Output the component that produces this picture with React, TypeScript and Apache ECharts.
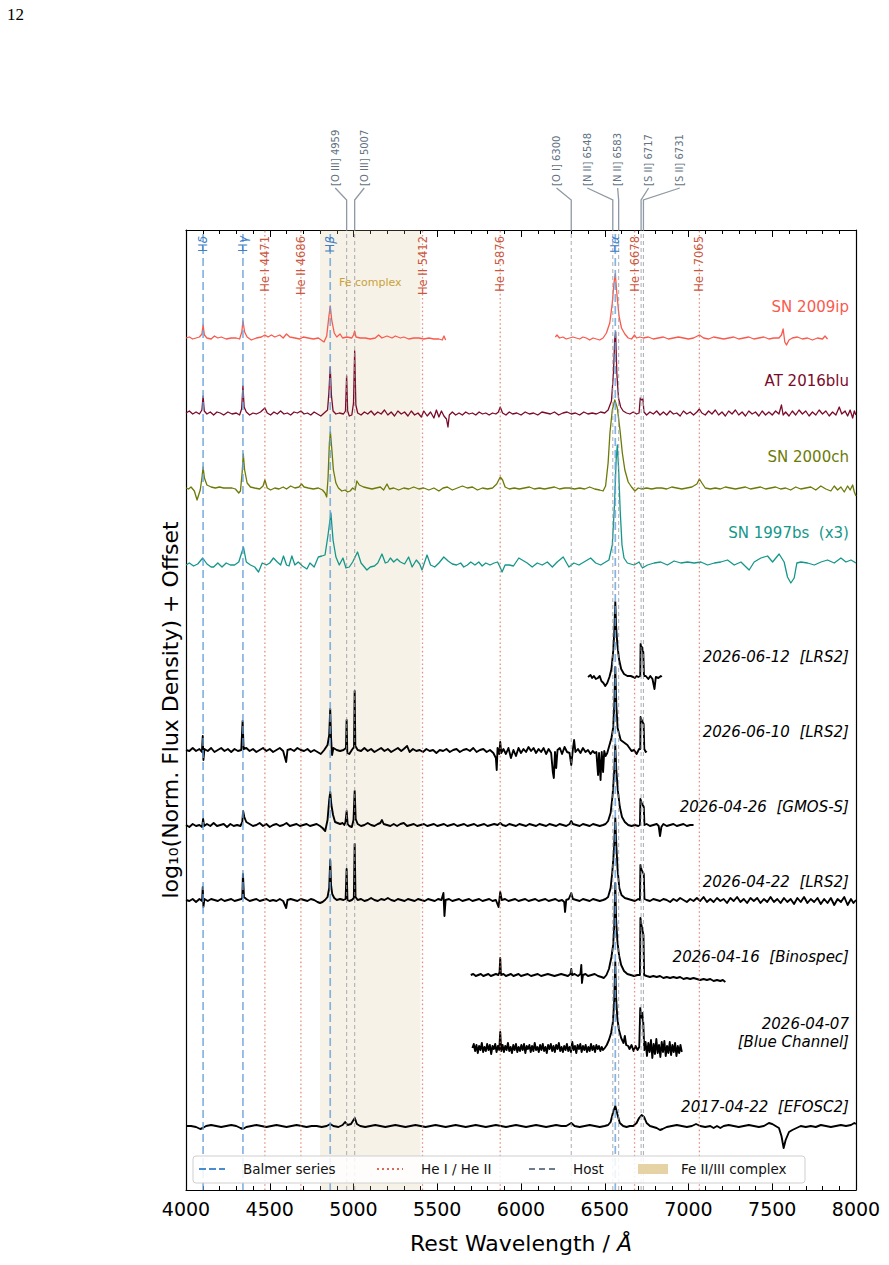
import React, { useEffect, useRef } from "react";
import * as echarts from "echarts";

type P = [number, number];

// ---------------- axes ----------------
const X_MIN = 4000;
const X_MAX = 8000;
const X_STEP = 500;
const Y_MIN = 0;
const Y_MAX = 960;

// ---------------- reference lines ----------------
const BALMER_WAVES = [4102, 4340, 4861, 6563];
const BALMER_GREEK = ["δ", "γ", "β", "α"];
const HE_WAVES = [4471, 4686, 5412, 5876, 6678, 7065];
const HE_LABELS = ["He I 4471", "He II 4686", "He II 5412", "He I 5876", "He I 6678", "He I 7065"];
const HOST_WAVES = [4959, 5007, 6300, 6548, 6583, 6717, 6731];
const HOST_LABELS = ["[O III] 4959", "[O III] 5007", "[O I] 6300", "[N II] 6548", "[N II] 6583", "[S II] 6717", "[S II] 6731"];
const HOST_LABEL_AT = [4891, 5064, 6212, 6396, 6577, 6762, 6948];
const FE_RANGE = [4800, 5400];

// ---------------- spectra (wavelength, relative flux) ----------------
const SN2009IP_BLUE: P[] = [[4000,0],[4020,1],[4040,-1],[4060,0],[4080,1],[4095,4],[4102,13],[4110,3],[4125,0],[4150,-1],[4170,2],[4190,0],[4210,1],[4240,-1],[4270,0],[4300,0],[4320,-1],[4333,6],[4340,17],[4350,6],[4365,1],[4390,-2],[4420,0],[4450,1],[4471,3],[4490,1],[4510,3],[4530,1],[4560,3],[4580,0],[4600,4],[4620,1],[4650,0],[4680,-1],[4700,1],[4730,0],[4760,-1],[4790,0],[4824,-4],[4840,2],[4852,20],[4861,32],[4870,18],[4885,5],[4900,1],[4920,4],[4935,0],[4960,1],[4990,0],[5000,3],[5007,7],[5015,1],[5040,0],[5070,0],[5100,-1],[5130,0],[5150,3],[5170,0],[5200,2],[5230,0],[5250,2],[5280,0],[5300,1],[5330,-1],[5360,0],[5390,0],[5420,-1],[5450,0],[5480,-1],[5510,-1],[5530,-2],[5540,2],[5550,-2]];
const SN2009IP_RED: P[] = [[6205,1],[6215,3],[6230,0],[6250,1],[6270,-1],[6290,0],[6310,1],[6330,0],[6350,-1],[6370,1],[6390,0],[6410,-2],[6430,0],[6450,-1],[6470,-2],[6490,0],[6510,5],[6530,15],[6545,35],[6555,55],[6563,64],[6572,45],[6585,22],[6600,10],[6620,4],[6640,0],[6660,-1],[6678,3],[6690,0],[6710,1],[6730,0],[6760,1],[6790,-1],[6820,0],[6850,1],[6880,-1],[6910,0],[6940,1],[6970,0],[7000,-1],[7030,0],[7065,3],[7090,0],[7120,-1],[7150,1],[7180,0],[7210,-1],[7240,0],[7270,1],[7300,-1],[7330,0],[7360,1],[7390,-1],[7420,0],[7450,1],[7480,-1],[7510,0],[7540,0],[7555,3],[7565,9],[7575,-4],[7585,-7],[7600,-2],[7620,0],[7650,1],[7680,-1],[7710,0],[7740,-2],[7770,0],[7800,-1],[7815,2],[7830,-1]];
const AT2016BLU: P[] = [[4000,0],[4020,2],[4040,-1],[4060,1],[4080,-1],[4095,3],[4102,17],[4109,2],[4125,-1],[4145,1],[4165,-2],[4185,1],[4205,0],[4225,-2],[4250,1],[4275,-1],[4300,0],[4320,-2],[4332,4],[4340,27],[4347,6],[4360,1],[4380,-2],[4400,0],[4420,-1],[4445,1],[4471,5],[4485,0],[4505,-2],[4525,1],[4545,-1],[4565,2],[4585,-1],[4605,0],[4625,-2],[4645,1],[4665,0],[4686,2],[4705,-1],[4725,0],[4745,-2],[4765,1],[4785,-1],[4805,-3],[4825,0],[4845,3],[4853,20],[4861,46],[4868,18],[4878,2],[4895,-1],[4915,0],[4940,-1],[4952,2],[4959,37],[4965,2],[4975,-3],[4990,-2],[5000,10],[5007,62],[5014,8],[5025,0],[5045,-2],[5065,1],[5085,-1],[5105,2],[5125,-2],[5145,1],[5165,-1],[5185,3],[5205,-2],[5225,1],[5245,-3],[5265,2],[5285,-1],[5305,1],[5325,-3],[5345,2],[5365,-2],[5385,0],[5405,-4],[5420,2],[5440,-3],[5460,1],[5480,-5],[5495,3],[5510,-4],[5525,2],[5540,-3],[5555,-6],[5564,-14],[5572,-2],[5590,1],[5610,-2],[5630,0],[5650,-2],[5670,1],[5690,-1],[5710,0],[5730,-2],[5750,1],[5770,-1],[5790,0],[5810,-2],[5830,0],[5850,-1],[5865,1],[5876,6],[5890,0],[5910,-2],[5930,1],[5950,-1],[5975,0],[6000,-2],[6025,1],[6050,-1],[6075,0],[6100,-2],[6125,1],[6150,0],[6175,-1],[6200,1],[6225,-2],[6250,0],[6275,1],[6300,-1],[6325,0],[6350,-2],[6375,1],[6400,-1],[6425,0],[6450,-1],[6475,1],[6500,0],[6520,3],[6540,12],[6552,40],[6560,75],[6565,81],[6572,40],[6582,15],[6595,6],[6610,2],[6630,0],[6650,-1],[6670,1],[6690,-1],[6705,0],[6712,15],[6720,13],[6728,14],[6734,1],[6750,-2],[6770,1],[6790,-1],[6810,2],[6830,-2],[6850,1],[6870,-2],[6890,2],[6910,-1],[6930,0],[6950,-3],[6970,2],[6990,-1],[7010,1],[7030,-2],[7050,1],[7065,4],[7080,0],[7100,-2],[7120,2],[7140,-1],[7160,3],[7180,-2],[7200,1],[7220,-3],[7240,2],[7260,-1],[7280,3],[7300,-2],[7320,1],[7340,-3],[7360,2],[7380,-1],[7400,1],[7420,-3],[7440,2],[7460,-2],[7480,1],[7500,-2],[7520,2],[7540,-1],[7555,8],[7565,-2],[7580,1],[7600,-3],[7620,2],[7640,-2],[7660,3],[7680,-1],[7700,2],[7720,-3],[7740,1],[7760,-2],[7780,3],[7800,-1],[7820,2],[7840,-3],[7860,1],[7880,-2],[7900,6],[7915,-1],[7935,2],[7950,-3],[7965,3],[7980,-5],[7990,2],[8000,-2]];
const SN2000CH: P[] = [[4000,0],[4015,-1],[4030,1],[4050,-3],[4066,-12],[4085,-2],[4095,10],[4102,21],[4110,10],[4125,3],[4150,1],[4175,0],[4200,1],[4225,0],[4250,0],[4275,0],[4295,-1],[4315,-5],[4325,-3],[4335,15],[4342,34],[4350,18],[4365,5],[4385,1],[4410,0],[4440,-1],[4460,2],[4471,8],[4485,0],[4505,-2],[4530,0],[4555,-1],[4580,1],[4600,-1],[4625,2],[4650,0],[4675,1],[4690,4],[4705,1],[4730,0],[4760,-1],[4790,0],[4815,-2],[4830,-5],[4840,-9],[4848,10],[4856,45],[4862,56],[4870,40],[4880,18],[4895,5],[4910,0],[4930,-3],[4950,-2],[4965,-4],[4980,-3],[4995,0],[5010,-2],[5020,7],[5035,3],[5060,1],[5085,0],[5110,-1],[5135,0],[5160,1],[5180,-2],[5200,4],[5215,-1],[5240,0],[5270,-2],[5300,0],[5330,-1],[5360,1],[5390,-1],[5420,0],[5450,-2],[5480,0],[5510,-3],[5535,0],[5560,1],[5590,-2],[5620,0],[5650,2],[5680,0],[5710,1],[5740,-2],[5770,0],[5800,-1],[5830,0],[5855,4],[5876,11],[5890,8],[5905,1],[5930,-1],[5960,0],[5990,-1],[6020,0],[6050,1],[6080,-1],[6110,0],[6140,-1],[6170,0],[6200,1],[6230,-1],[6260,0],[6290,0],[6320,-1],[6350,0],[6380,-1],[6410,1],[6440,-1],[6470,-2],[6490,-3],[6505,2],[6520,25],[6531,55],[6545,78],[6560,88],[6575,80],[6591,58],[6605,35],[6620,18],[6640,6],[6660,1],[6680,-3],[6700,0],[6720,-1],[6750,0],[6780,-1],[6810,0],[6840,0],[6870,-1],[6900,1],[6930,0],[6960,-1],[6990,0],[7020,1],[7050,4],[7065,9],[7080,5],[7100,0],[7130,-1],[7160,0],[7190,-1],[7220,1],[7250,0],[7280,-1],[7310,0],[7340,1],[7370,-1],[7400,0],[7430,1],[7460,-1],[7490,0],[7520,1],[7550,-1],[7580,0],[7610,-2],[7640,1],[7670,-1],[7700,0],[7730,1],[7760,-2],[7790,2],[7820,-1],[7850,-3],[7870,2],[7890,-2],[7910,1],[7930,-4],[7950,2],[7965,-2],[7980,3],[7990,-4],[8000,-8]];
const SN1997BS: P[] = [[4000,0],[4020,2],[4045,-1],[4070,1],[4100,7],[4125,1],[4150,-2],[4165,-2],[4190,2],[4215,-2],[4240,2],[4265,0],[4290,0],[4315,3],[4343,18],[4360,3],[4385,0],[4410,-2],[4433,-7],[4455,2],[4480,0],[4500,2],[4522,7],[4545,3],[4565,0],[4582,9],[4600,0],[4615,-1],[4632,9],[4650,0],[4670,3],[4695,-1],[4722,-4],[4740,2],[4765,-2],[4790,8],[4811,9],[4830,10],[4848,30],[4865,52],[4878,25],[4895,8],[4915,0],[4937,7],[4955,-3],[4975,-2],[4995,3],[5024,13],[5045,2],[5065,-2],[5080,-5],[5100,-2],[5125,-1],[5145,2],[5170,11],[5190,2],[5205,3],[5220,7],[5240,3],[5260,6],[5280,3],[5305,1],[5329,8],[5350,-2],[5375,5],[5395,1],[5409,-5],[5425,3],[5439,10],[5460,0],[5485,-2],[5510,2],[5539,8],[5565,4],[5590,1],[5615,0],[5640,2],[5658,-2],[5680,0],[5700,3],[5725,0],[5748,3],[5768,-1],[5790,2],[5815,0],[5840,2],[5860,3],[5875,-2],[5887,-7],[5905,0],[5930,0],[5955,-1],[5987,7],[6037,2],[6067,-2],[6097,2],[6127,0],[6157,3],[6187,-2],[6216,3],[6252,8],[6286,-2],[6316,2],[6346,0],[6376,3],[6416,7],[6446,2],[6476,0],[6505,3],[6525,5],[6545,20],[6558,60],[6568,105],[6575,120],[6583,95],[6592,55],[6603,20],[6615,7],[6635,2],[6675,0],[6705,3],[6725,-3],[6755,0],[6795,2],[6834,3],[6874,0],[6914,4],[6954,2],[6994,3],[7034,2],[7074,3],[7114,0],[7154,2],[7193,3],[7233,5],[7273,0],[7313,3],[7362,-5],[7392,3],[7432,7],[7472,9],[7502,3],[7541,11],[7571,3],[7591,-12],[7611,-18],[7631,-13],[7647,2],[7671,3],[7711,2],[7751,0],[7791,3],[7830,5],[7870,2],[7910,7],[7940,3],[7970,5],[8000,2]];
const OBS_20260612: P[] = [[6400,0],[6415,2],[6425,-1],[6435,1],[6447,-2],[6459,-1],[6470,1],[6480,-4],[6492,-6],[6503,-9],[6515,-6],[6528,0],[6540,8],[6550,25],[6557,45],[6563,75],[6568,50],[6575,33],[6585,18],[6598,8],[6615,3],[6635,1],[6655,1],[6670,0],[6680,-1],[6690,1],[6700,0],[6712,1],[6714,33],[6718,29],[6722,30],[6726,27],[6730,25],[6734,1],[6745,1],[6760,-2],[6772,1],[6785,-2],[6797,-12],[6805,0],[6820,-1],[6835,1],[6840,0]];
const OBS_20260610: P[] = [[4000,0],[4020,-1],[4040,2],[4060,-1],[4080,1],[4095,-2],[4100,14],[4104,-10],[4110,1],[4130,-1],[4150,2],[4170,-2],[4190,0],[4210,2],[4230,-1],[4250,1],[4270,-2],[4290,1],[4310,-1],[4330,0],[4338,29],[4344,1],[4360,2],[4380,-1],[4400,1],[4420,-2],[4440,0],[4460,2],[4480,-1],[4500,1],[4520,-2],[4540,0],[4560,2],[4580,-1],[4598,-12],[4606,0],[4625,1],[4645,-1],[4665,2],[4685,0],[4705,-1],[4725,1],[4745,-2],[4765,0],[4785,-2],[4805,-4],[4825,0],[4845,5],[4855,15],[4861,41],[4866,12],[4872,-5],[4880,2],[4900,0],[4920,-1],[4940,0],[4955,2],[4959,30],[4963,-3],[4975,-4],[4990,0],[5003,3],[5007,59],[5011,4],[5025,0],[5045,-1],[5065,2],[5085,-1],[5105,1],[5125,-2],[5145,0],[5165,2],[5185,-1],[5205,1],[5225,-2],[5245,0],[5265,2],[5285,-1],[5300,1],[5320,4],[5335,-2],[5355,1],[5375,-1],[5395,0],[5415,-2],[5435,1],[5455,-1],[5475,0],[5495,-3],[5515,0],[5535,-1],[5555,1],[5575,-2],[5595,0],[5615,1],[5635,-2],[5655,0],[5675,1],[5695,-1],[5715,2],[5735,-2],[5755,0],[5775,1],[5795,-2],[5815,0],[5835,-3],[5850,-8],[5855,-20],[5860,2],[5870,-4],[5876,8],[5882,-3],[5895,1],[5910,-4],[5925,2],[5940,-8],[5955,0],[5970,-6],[5985,2],[6000,-3],[6015,1],[6030,-2],[6045,3],[6060,-1],[6075,2],[6090,-3],[6105,1],[6120,-2],[6135,2],[6150,-4],[6165,1],[6180,-3],[6190,-22],[6196,-28],[6203,-2],[6210,-18],[6218,0],[6232,2],[6245,-4],[6260,3],[6275,-2],[6290,-3],[6300,-15],[6310,1],[6317,10],[6325,-2],[6340,1],[6355,-3],[6370,2],[6385,-2],[6400,0],[6415,-4],[6428,-1],[6440,-3],[6450,-2],[6460,-25],[6466,-3],[6475,-30],[6482,-2],[6490,-22],[6497,-1],[6505,-6],[6515,-3],[6525,3],[6540,12],[6550,22],[6557,45],[6563,83],[6569,45],[6577,22],[6595,10],[6635,5],[6660,-1],[6675,0],[6690,-4],[6705,1],[6712,1],[6714,33],[6720,30],[6726,28],[6732,26],[6736,1],[6745,-2],[6750,-1]];
const OBS_20260426: P[] = [[4000,0],[4020,-2],[4040,1],[4060,-1],[4080,0],[4096,-2],[4102,6],[4108,-1],[4125,1],[4145,-1],[4165,2],[4185,-1],[4205,0],[4225,1],[4245,-2],[4265,1],[4285,-1],[4305,0],[4325,-1],[4336,3],[4341,14],[4348,8],[4360,3],[4380,1],[4400,-1],[4420,0],[4440,2],[4460,-1],[4480,1],[4500,-2],[4520,0],[4540,1],[4560,-1],[4580,0],[4600,2],[4620,-1],[4640,0],[4660,1],[4680,-1],[4700,0],[4720,1],[4740,-1],[4760,0],[4780,1],[4800,-1],[4815,-3],[4831,-6],[4845,5],[4855,25],[4861,33],[4868,20],[4878,10],[4890,3],[4905,2],[4920,1],[4935,2],[4945,0],[4952,3],[4959,14],[4965,1],[4975,-1],[4990,-2],[5000,5],[5007,34],[5013,6],[5025,1],[5045,-1],[5065,0],[5085,2],[5105,0],[5125,-1],[5145,1],[5160,2],[5170,5],[5180,1],[5200,0],[5220,-1],[5240,1],[5260,-1],[5280,1],[5300,2],[5320,-1],[5340,0],[5360,1],[5380,-1],[5400,0],[5420,1],[5440,-1],[5460,0],[5480,1],[5500,-1],[5520,0],[5540,1],[5560,-1],[5580,0],[5600,1],[5620,-1],[5640,0],[5660,1],[5680,-1],[5700,0],[5720,1],[5740,-1],[5760,0],[5780,1],[5800,-1],[5820,0],[5840,1],[5860,0],[5876,2],[5890,0],[5910,-1],[5930,1],[5950,0],[5970,-1],[5990,1],[6010,0],[6030,-1],[6050,1],[6070,0],[6090,-1],[6110,1],[6130,0],[6150,-1],[6170,1],[6190,0],[6210,-1],[6230,1],[6250,0],[6270,-1],[6290,1],[6300,4],[6310,1],[6330,0],[6350,-1],[6370,1],[6390,0],[6410,-1],[6430,1],[6450,0],[6470,-1],[6490,0],[6505,1],[6520,4],[6535,12],[6547,30],[6557,55],[6563,80],[6569,55],[6578,35],[6590,18],[6603,8],[6620,3],[6640,0],[6660,-1],[6680,0],[6700,-1],[6710,0],[6713,26],[6720,22],[6727,20],[6733,18],[6737,0],[6750,1],[6770,-1],[6790,0],[6810,1],[6822,-1],[6830,-11],[6838,-2],[6850,1],[6870,-1],[6890,0],[6910,1],[6930,-1],[6950,0],[6970,1],[6990,-1],[7010,0],[7030,0]];
const OBS_20260422: P[] = [[4000,0],[4020,-1],[4040,1],[4060,-2],[4080,1],[4096,-1],[4100,13],[4104,-7],[4110,1],[4130,-1],[4150,1],[4170,0],[4190,-1],[4210,1],[4230,-1],[4250,0],[4270,1],[4290,-1],[4310,0],[4330,1],[4336,2],[4340,26],[4346,3],[4360,1],[4380,-1],[4400,0],[4420,1],[4440,-1],[4460,0],[4480,1],[4500,-1],[4520,0],[4540,-1],[4560,1],[4580,-1],[4598,-8],[4606,0],[4625,1],[4645,0],[4665,-1],[4685,1],[4705,0],[4725,-1],[4745,1],[4765,0],[4785,-2],[4800,-3],[4815,-2],[4830,0],[4845,3],[4855,12],[4861,40],[4866,15],[4873,6],[4885,2],[4900,0],[4920,1],[4940,0],[4953,1],[4959,31],[4964,0],[4975,-1],[4990,0],[5002,2],[5007,56],[5012,3],[5025,0],[5045,1],[5065,-1],[5085,0],[5105,2],[5125,0],[5145,-1],[5165,1],[5185,0],[5205,2],[5225,0],[5245,-1],[5265,1],[5285,0],[5305,-1],[5325,1],[5345,0],[5365,-1],[5385,1],[5405,0],[5425,-1],[5445,1],[5465,0],[5485,-1],[5505,1],[5525,0],[5537,7],[5543,-16],[5550,0],[5570,1],[5590,-1],[5610,0],[5630,1],[5650,-1],[5670,0],[5690,1],[5710,-1],[5730,0],[5750,1],[5770,-1],[5790,0],[5810,1],[5830,-1],[5850,0],[5866,-7],[5876,8],[5885,0],[5905,1],[5925,-1],[5945,0],[5965,1],[5985,-1],[6005,0],[6025,1],[6045,-1],[6065,0],[6085,1],[6105,-1],[6125,0],[6145,1],[6165,-1],[6185,0],[6205,1],[6225,-1],[6245,0],[6258,-2],[6263,-12],[6270,0],[6285,1],[6300,7],[6310,1],[6330,0],[6350,-1],[6370,1],[6390,0],[6410,-1],[6430,1],[6450,0],[6470,-1],[6490,0],[6505,1],[6520,3],[6535,12],[6545,28],[6555,50],[6563,82],[6569,55],[6577,30],[6587,12],[6600,5],[6620,2],[6640,1],[6660,0],[6680,-1],[6700,1],[6710,0],[6713,35],[6720,30],[6727,28],[6733,26],[6737,1],[6750,0],[6770,-1],[6790,1],[6810,0],[6830,-1],[6850,1],[6870,0],[6890,-2],[6910,1],[6930,-1],[6950,2],[6970,0],[6990,-2],[7010,1],[7030,-1],[7050,2],[7070,-1],[7090,3],[7110,-2],[7130,1],[7150,-2],[7170,2],[7190,-1],[7210,1],[7230,-3],[7250,2],[7270,-1],[7290,3],[7310,-2],[7330,1],[7350,-3],[7370,2],[7390,-1],[7410,2],[7430,-3],[7450,1],[7470,-2],[7490,3],[7510,-2],[7530,1],[7550,-3],[7570,2],[7590,-2],[7610,1],[7630,-4],[7650,2],[7670,-2],[7690,3],[7710,-3],[7730,1],[7750,-2],[7770,2],[7790,-4],[7810,1],[7830,-3],[7850,2],[7870,-5],[7890,1],[7910,-2],[7930,3],[7950,-5],[7970,1],[7985,-3],[8000,0]];
const OBS_20260416: P[] = [[5700,0],[5715,1],[5730,-1],[5745,0],[5760,1],[5775,-1],[5790,0],[5805,1],[5820,-1],[5835,0],[5850,1],[5865,0],[5872,3],[5876,17],[5880,0],[5895,1],[5910,-1],[5925,0],[5940,1],[5955,-1],[5970,0],[5985,1],[6000,-1],[6020,0],[6040,1],[6060,-1],[6080,0],[6100,1],[6120,-1],[6140,0],[6160,1],[6180,0],[6200,-1],[6220,0],[6240,1],[6260,0],[6280,-1],[6295,1],[6300,6],[6305,0],[6320,1],[6340,-1],[6355,1],[6360,10],[6364,-8],[6370,0],[6385,1],[6400,-1],[6420,0],[6440,1],[6460,-1],[6480,-2],[6495,-3],[6510,0],[6525,6],[6540,18],[6550,30],[6557,50],[6563,92],[6568,55],[6575,35],[6585,20],[6598,10],[6615,4],[6635,1],[6655,0],[6675,-1],[6695,0],[6710,0],[6713,57],[6719,50],[6725,45],[6731,40],[6735,0],[6750,-1],[6770,-2],[6790,-1],[6810,-2],[6830,-1],[6850,-3],[6870,-2],[6890,-3],[6910,-2],[6930,-3],[6950,-2],[6970,-4],[6990,-3],[7010,-4],[7030,-3],[7050,-4],[7070,-5],[7090,-4],[7110,-5],[7130,-4],[7150,-6],[7170,-5],[7190,-6],[7205,-5],[7220,-7]];
const OBS_20260407: P[] = [[5710,0],[5718,4],[5726,-3],[5734,3],[5742,-5],[5750,2],[5758,-2],[5766,5],[5774,-4],[5782,1],[5790,-3],[5798,4],[5806,-2],[5814,3],[5822,-6],[5830,2],[5838,-1],[5846,4],[5854,-4],[5862,2],[5870,-2],[5876,16],[5882,-3],[5890,3],[5898,-4],[5906,2],[5914,-2],[5922,5],[5930,-3],[5938,1],[5946,-5],[5954,3],[5962,-2],[5970,4],[5978,-4],[5986,1],[5994,-3],[6002,3],[6010,-2],[6018,4],[6026,-5],[6034,2],[6042,-1],[6050,3],[6058,-4],[6066,2],[6074,-3],[6082,5],[6090,-2],[6098,1],[6106,-4],[6114,3],[6122,-2],[6130,4],[6138,-3],[6146,1],[6154,-5],[6162,3],[6170,-1],[6178,4],[6186,-3],[6194,2],[6202,-4],[6210,3],[6218,-1],[6226,5],[6234,-3],[6242,1],[6250,-4],[6258,2],[6266,-2],[6274,4],[6282,-3],[6290,1],[6298,-4],[6306,6],[6314,-2],[6322,2],[6330,-5],[6338,3],[6346,-1],[6354,4],[6362,-4],[6370,2],[6378,-2],[6386,3],[6394,-4],[6402,1],[6410,-3],[6418,4],[6426,-2],[6434,2],[6442,-4],[6450,3],[6458,-1],[6466,2],[6474,-3],[6482,1],[6490,-2],[6500,0],[6512,3],[6525,8],[6538,15],[6548,25],[6556,45],[6563,86],[6568,50],[6575,30],[6585,18],[6598,10],[6612,5],[6620,12],[6628,3],[6640,2],[6648,-1],[6660,3],[6672,-3],[6684,2],[6696,-2],[6706,1],[6712,40],[6718,30],[6724,35],[6730,25],[6736,-2],[6744,6],[6752,-8],[6760,5],[6768,-4],[6776,8],[6784,-10],[6792,4],[6800,-6],[6808,9],[6816,-5],[6824,3],[6832,-9],[6840,6],[6848,-4],[6856,7],[6864,-8],[6872,2],[6880,-5],[6888,6],[6896,-7],[6904,3],[6912,-4],[6920,5],[6928,-8],[6936,2],[6944,-5],[6952,3],[6960,-4]];
const OBS_20170422: P[] = [[4000,0],[4030,0],[4060,-1],[4085,-3],[4100,-2],[4120,0],[4150,1],[4180,0],[4210,-1],[4240,0],[4270,1],[4300,0],[4325,-2],[4340,-3],[4360,-1],[4390,0],[4420,1],[4450,0],[4480,-1],[4510,0],[4540,1],[4570,0],[4600,-1],[4630,0],[4660,1],[4690,0],[4720,-1],[4750,0],[4780,0],[4810,-1],[4840,0],[4861,2],[4880,0],[4910,-1],[4935,1],[4950,4],[4965,1],[4985,2],[5000,6],[5008,8],[5020,2],[5040,0],[5070,-1],[5100,0],[5130,1],[5160,0],[5190,-1],[5220,0],[5250,1],[5280,0],[5310,-1],[5340,0],[5370,1],[5400,0],[5430,-1],[5460,0],[5490,1],[5520,0],[5550,-1],[5580,0],[5610,1],[5640,0],[5670,-1],[5700,0],[5730,1],[5760,0],[5790,-1],[5820,0],[5850,1],[5880,0],[5910,-1],[5940,0],[5970,1],[6000,0],[6030,-1],[6060,0],[6090,1],[6120,0],[6150,-1],[6180,0],[6210,1],[6240,0],[6270,0],[6300,3],[6320,0],[6350,-1],[6380,0],[6410,1],[6440,0],[6470,-1],[6500,0],[6520,1],[6535,4],[6550,14],[6563,20],[6575,12],[6590,3],[6610,0],[6630,-1],[6650,0],[6670,0],[6690,3],[6705,8],[6720,11],[6735,9],[6750,3],[6770,0],[6790,-1],[6810,-2],[6830,-4],[6845,-3],[6870,-1],[6900,0],[6930,1],[6960,0],[6990,-1],[7020,0],[7045,2],[7070,0],[7100,-1],[7130,0],[7150,-2],[7170,0],[7190,-2],[7210,0],[7240,1],[7270,0],[7300,-1],[7330,0],[7360,1],[7390,0],[7420,-1],[7450,0],[7480,3],[7500,2],[7520,0],[7540,-2],[7555,-10],[7568,-22],[7580,-14],[7600,-6],[7620,-4],[7645,-2],[7670,0],[7700,-1],[7730,0],[7760,-1],[7790,1],[7820,0],[7850,-1],[7880,0],[7910,1],[7940,0],[7970,1],[7990,3],[8000,2]];

// offsets added to each spectrum (top to bottom)
const OFFSETS = [852, 777, 702, 625, 513, 440, 365, 290, 215, 142, 64];
const NAMES = [
  "SN 2009ip",
  "AT 2016blu",
  "SN 2000ch",
  "SN 1997bs  (x3)",
  "2026-06-12  [LRS2]",
  "2026-06-10  [LRS2]",
  "2026-04-26  [GMOS-S]",
  "2026-04-22  [LRS2]",
  "2026-04-16  [Binospec]",
  "2026-04-07\n[Blue Channel]",
  "2017-04-22  [EFOSC2]",
];
const SEGMENTS: P[][][] = [
  [SN2009IP_BLUE, SN2009IP_RED],
  [AT2016BLU],
  [SN2000CH],
  [SN1997BS],
  [OBS_20260612],
  [OBS_20260610],
  [OBS_20260426],
  [OBS_20260422],
  [OBS_20260416],
  [OBS_20260407],
  [OBS_20170422],
];

// ---------------- styles ----------------
const COLORS = ["#f95a4e", "#7b0b2b", "#6c7a06", "#14978a", "#000", "#000", "#000", "#000", "#000", "#000", "#000"];
const WIDTHS = [1.3, 1.3, 1.3, 1.3, 1.9, 1.9, 1.9, 1.9, 1.9, 1.9, 1.9];
const LABEL_RISE = [31, 32, 31, 32, 20, 18, 18, 18, 18, 15, 19];
const LABEL_AT = 7958;
const FONT = "DejaVu Sans";
const BALMER_COLOR = "rgba(105,160,215,0.8)";
const HE_COLOR = "rgba(215,110,85,0.75)";
const HOST_COLOR = "rgba(150,155,162,0.75)";

export default function App() {
  const ref = useRef<HTMLDivElement>(null);

  useEffect(() => {
    const el = ref.current!;
    const chart = echarts.init(el, undefined, { renderer: "svg" });

    const series: any[] = [];

    // Fe complex shaded band
    series.push({
      type: "line",
      data: [[FE_RANGE[0], Y_MIN], [FE_RANGE[1], Y_MIN]],
      showSymbol: false,
      lineStyle: { width: 0, opacity: 0 },
      silent: true,
      z: 1,
      markArea: {
        silent: true,
        itemStyle: { color: "rgba(214,190,135,0.2)" },
        data: [[{ xAxis: FE_RANGE[0] }, { xAxis: FE_RANGE[1] }]],
      },
    });

    // spectra
    SEGMENTS.forEach((segs, i) => {
      segs.forEach((seg) => {
        series.push({
          type: "line",
          data: seg.map(([w, f]) => [w, f + OFFSETS[i]]),
          showSymbol: false,
          symbol: "none",
          silent: true,
          z: 3,
          lineStyle: { color: COLORS[i], width: WIDTHS[i], join: "round" },
        });
      });
    });

    const vline = (w: number, color: string, width: number, dash: number[]) => ({
      type: "line",
      data: [[w, Y_MIN], [w, Y_MAX]],
      showSymbol: false,
      symbol: "none",
      silent: true,
      z: 4,
      lineStyle: { color, width, type: dash },
    });
    HOST_WAVES.forEach((w) => series.push(vline(w, HOST_COLOR, 1.1, [4, 3])));
    HE_WAVES.forEach((w) => series.push(vline(w, HE_COLOR, 1.3, [1.6, 2.6])));
    BALMER_WAVES.forEach((w) => series.push(vline(w, BALMER_COLOR, 1.7, [8, 4])));

    const axisCommon = {
      type: "value",
      min: X_MIN,
      max: X_MAX,
      interval: X_STEP,
      axisLine: { show: true, onZero: false, lineStyle: { color: "#000", width: 1.2 } },
      axisTick: { show: true, inside: true, length: 7, lineStyle: { color: "#000", width: 1 } },
      minorTick: { show: true, splitNumber: 5, length: 4, lineStyle: { color: "#000", width: 1 } },
      splitLine: { show: false },
    };

    chart.setOption({
      animation: false,
      textStyle: { fontFamily: FONT },
      grid: { left: 186, right: 33, top: 230, bottom: 75, containLabel: false },
      xAxis: [
        {
          ...axisCommon,
          position: "bottom",
          axisLabel: { show: true, fontSize: 19, color: "#000", margin: 9, fontFamily: FONT, formatter: (v: number) => String(v) },
        },
        {
          ...axisCommon,
          position: "top",
          axisLabel: { show: false },
        },
      ],
      yAxis: [
        {
          type: "value", min: Y_MIN, max: Y_MAX, position: "left",
          axisLine: { show: true, onZero: false, lineStyle: { color: "#000", width: 1.2 } },
          axisTick: { show: false }, axisLabel: { show: false }, splitLine: { show: false },
        },
        {
          type: "value", min: Y_MIN, max: Y_MAX, position: "right",
          axisLine: { show: true, onZero: false, lineStyle: { color: "#000", width: 1.2 } },
          axisTick: { show: false }, axisLabel: { show: false }, splitLine: { show: false },
        },
      ],
      series,
    });

    const px = (w: number, v: number) =>
      chart.convertToPixel({ xAxisIndex: 0, yAxisIndex: 0 }, [w, v]) as number[];
    const topY = px(X_MIN, Y_MAX)[1];
    const botY = px(X_MIN, Y_MIN)[1];
    const leftX = px(X_MIN, Y_MIN)[0];
    const rightX = px(X_MAX, Y_MIN)[0];

    const g: any[] = [];

    // page number
    g.push({ type: "text", x: 7, y: 14, style: { text: "12", font: "17px 'Liberation Serif'", fill: "#000", verticalAlign: "middle" } });

    // Balmer labels
    BALMER_WAVES.forEach((w, i) => {
      const [x] = px(w, 0);
      g.push({
        type: "text", x, y: topY + 6, rotation: Math.PI / 2, z: 20,
        style: {
          text: "H{g|" + BALMER_GREEK[i] + "}",
          font: `12px '${FONT}'`, fill: "#3d80c6", align: "right", verticalAlign: "middle",
          rich: { g: { fontStyle: "italic", fontSize: 12, fontFamily: FONT, fill: "#3d80c6" } },
        },
      });
    });
    // He labels
    HE_WAVES.forEach((w, i) => {
      const [x] = px(w, 0);
      g.push({
        type: "text", x, y: topY + 6, rotation: Math.PI / 2, z: 20,
        style: { text: HE_LABELS[i], font: `11.5px '${FONT}'`, fill: "#c9583f", align: "right", verticalAlign: "middle" },
      });
    });
    // Host labels above the frame with leader lines
    HOST_WAVES.forEach((w, i) => {
      const [x] = px(w, 0);
      const [lx] = px(HOST_LABEL_AT[i], 0);
      g.push({
        type: "polyline", z: 20,
        shape: { points: [[x, topY], [x, topY - 30], [lx, topY - 42]] },
        style: { stroke: "#8e99a3", lineWidth: 1.3, fill: null },
      });
      g.push({
        type: "text", x: lx, y: topY - 44, rotation: Math.PI / 2, z: 20,
        style: { text: HOST_LABELS[i], font: `10px '${FONT}'`, fill: "#627282", align: "left", verticalAlign: "middle" },
      });
    });
    // Fe complex label
    {
      const [x] = px((FE_RANGE[0] + FE_RANGE[1]) / 2, 0);
      g.push({
        type: "text", x, y: topY + 52, z: 20,
        style: { text: "Fe complex", font: `11px '${FONT}'`, fill: "#c9a13a", align: "center", verticalAlign: "middle" },
      });
    }
    // spectrum labels
    NAMES.forEach((name, i) => {
      const [x, y] = px(LABEL_AT, OFFSETS[i] + LABEL_RISE[i]);
      const italic = i >= 4;
      g.push({
        type: "text", x, y, z: 20,
        style: {
          text: name,
          font: `${italic ? "italic " : ""}15px '${FONT}'`,
          fill: COLORS[i], align: "right", verticalAlign: "middle", lineHeight: 18,
        },
      });
    });
    // axis titles
    g.push({
      type: "text", x: (leftX + rightX) / 2, y: botY + 53, z: 20,
      style: {
        text: "Rest Wavelength / {i|Å}", font: `22px '${FONT}'`, fill: "#000", align: "center", verticalAlign: "middle",
        rich: { i: { fontStyle: "italic", fontSize: 22, fontFamily: FONT, fill: "#000" } },
      },
    });
    g.push({
      type: "text", x: leftX - 16, y: (topY + botY) / 2, rotation: Math.PI / 2, z: 20,
      style: { text: "log₁₀(Norm. Flux Density) + Offset", font: `22px '${FONT}'`, fill: "#000", align: "center", verticalAlign: "middle" },
    });

    // legend
    const LY = 1169;
    g.push({ type: "rect", z: 30, shape: { x: 193, y: 1156, width: 612, height: 27, r: 3 }, style: { fill: "rgba(255,255,255,0.85)", stroke: "#cfcfcf", lineWidth: 1 } });
    g.push({ type: "line", z: 31, shape: { x1: 199, y1: LY, x2: 225, y2: LY }, style: { stroke: "#4a8cd0", lineWidth: 2.2, lineDash: [7, 3] } });
    g.push({ type: "text", z: 31, x: 243, y: LY, style: { text: "Balmer series", font: `13.5px '${FONT}'`, fill: "#111", verticalAlign: "middle" } });
    g.push({ type: "line", z: 31, shape: { x1: 377, y1: LY, x2: 403, y2: LY }, style: { stroke: "#d76b55", lineWidth: 2.2, lineDash: [2, 3] } });
    g.push({ type: "text", z: 31, x: 421, y: LY, style: { text: "He I / He II", font: `13.5px '${FONT}'`, fill: "#111", verticalAlign: "middle" } });
    g.push({ type: "line", z: 31, shape: { x1: 529, y1: LY, x2: 555, y2: LY }, style: { stroke: "#6b7c8c", lineWidth: 2.2, lineDash: [6, 4] } });
    g.push({ type: "text", z: 31, x: 573, y: LY, style: { text: "Host", font: `13.5px '${FONT}'`, fill: "#111", verticalAlign: "middle" } });
    g.push({ type: "rect", z: 31, shape: { x: 638, y: 1164, width: 30, height: 10 }, style: { fill: "#e5d3a6" } });
    g.push({ type: "text", z: 31, x: 681, y: LY, style: { text: "Fe II/III complex", font: `13.5px '${FONT}'`, fill: "#111", verticalAlign: "middle" } });

    chart.setOption({ graphic: g });

    return () => chart.dispose();
  }, []);

  return <div ref={ref} style={{ position: "absolute", left: 0, top: 0, width: 889, height: 1265 }} />;
}
